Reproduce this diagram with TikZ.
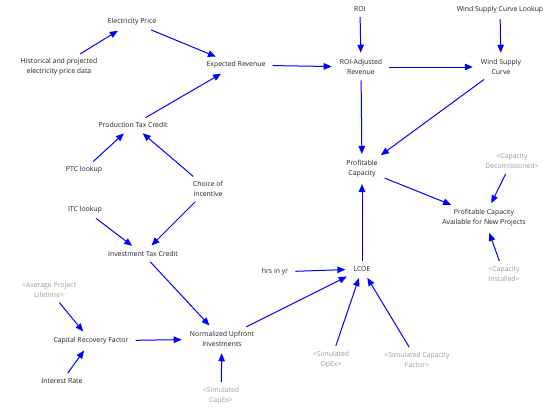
\documentclass[tikz,border=0pt]{standalone}
\usepackage{fontspec}
\setmainfont{Open Sans}
\usetikzlibrary{arrows.meta}
\definecolor{txt}{HTML}{222222}
\definecolor{shadow}{HTML}{9A9A9A}
\definecolor{arr}{HTML}{0000FF}
\begin{document}
\begin{tikzpicture}[x=1pt,y=-1pt,
  var/.style={font=\fontsize{6.9}{9.8}\selectfont, text=txt, align=center, inner xsep=5pt, inner ysep=3.5pt},
  ghost/.style={var, text=shadow},
  link/.style={draw=arr, line width=1pt, shorten >=3pt, shorten <=2pt, -{Triangle[length=8pt,width=6.5pt]}}]
\useasboundingbox (0,0) rectangle (550,410);
\node[var] (ep) at (132,22) {Electricity Price};
\node[var] (hist) at (59,67) {Historical and projected\\electricity price data};
\node[var] (er) at (236,65) {Expected Revenue};
\node[var] (roi) at (360,9) {ROI};
\node[var] (wscl) at (500,10) {Wind Supply Curve Lookup};
\node[var] (roiar) at (361,67) {ROI-Adjusted\\Revenue};
\node[var] (wsc) at (501,67) {Wind Supply\\Curve};
\node[var] (ptc) at (133,125) {Production Tax Credit};
\node[var] (ptcl) at (84,170) {PTC lookup};
\node[var] (choice) at (208,189) {Choice of\\incentive};
\node[var] (pc) at (362,169) {Profitable\\Capacity};
\node[ghost] (capdec) at (512,161) {<Capacity\\Decomissioned>};
\node[var] (pcaf) at (484,218) {Profitable Capacity\\Available for New Projects};
\node[var] (itcl) at (85,210) {ITC lookup};
\node[var] (itc) at (143,254) {Investment Tax Credit};
\node[var] (hrs) at (275,272) {hrs in yr};
\node[var] (lcoe) at (362,269) {LCOE};
\node[ghost] (apl) at (49,290) {<Average Project\\Lifetime>};
\node[var] (crf) at (91,341) {Capital Recovery Factor};
\node[var] (nui) at (222,339) {Normalized Upfront\\Investments};
\node[ghost] (capinst) at (504,274) {<Capacity\\Installed>};
\node[var] (ir) at (62,381) {Interest Rate};
\node[ghost] (capex) at (221,396) {<Simulated\\CapEx>};
\node[ghost] (opex) at (331,360) {<Simulated\\OpEx>};
\node[ghost] (capf) at (417,360) {<Simulated Capacity\\Factor>};

\draw[link] (hist) -- (ep);
\draw[link] (ep) -- (er);
\draw[link] (ptc) -- (er);
\draw[link] (er) -- (roiar);
\draw[link] (roi) -- (roiar);
\draw[link] (roiar) -- (wsc);
\draw[link] (wscl) -- (wsc);
\draw[link] (wsc) -- (pc);
\draw[link] (roiar) -- (pc);
\draw[link] (ptcl) -- (ptc);
\draw[link] (choice) -- (ptc);
\draw[link] (choice) -- (itc);
\draw[link] (itcl) -- (itc);
\draw[link] (itc) -- (nui);
\draw[link] (apl) -- (crf);
\draw[link] (crf) -- (nui);
\draw[link] (ir) -- (crf);
\draw[link] (capex) -- (nui);
\draw[link] (nui) -- (lcoe);
\draw[link] (hrs) -- (lcoe);
\draw[link] (opex) -- (lcoe);
\draw[link] (capf) -- (lcoe);
\draw[link] (lcoe) -- (pc);
\draw[link] (pc) -- (pcaf);
\draw[link] (capdec) -- (pcaf);
\draw[link] (capinst) -- (pcaf);
\end{tikzpicture}
\end{document}
